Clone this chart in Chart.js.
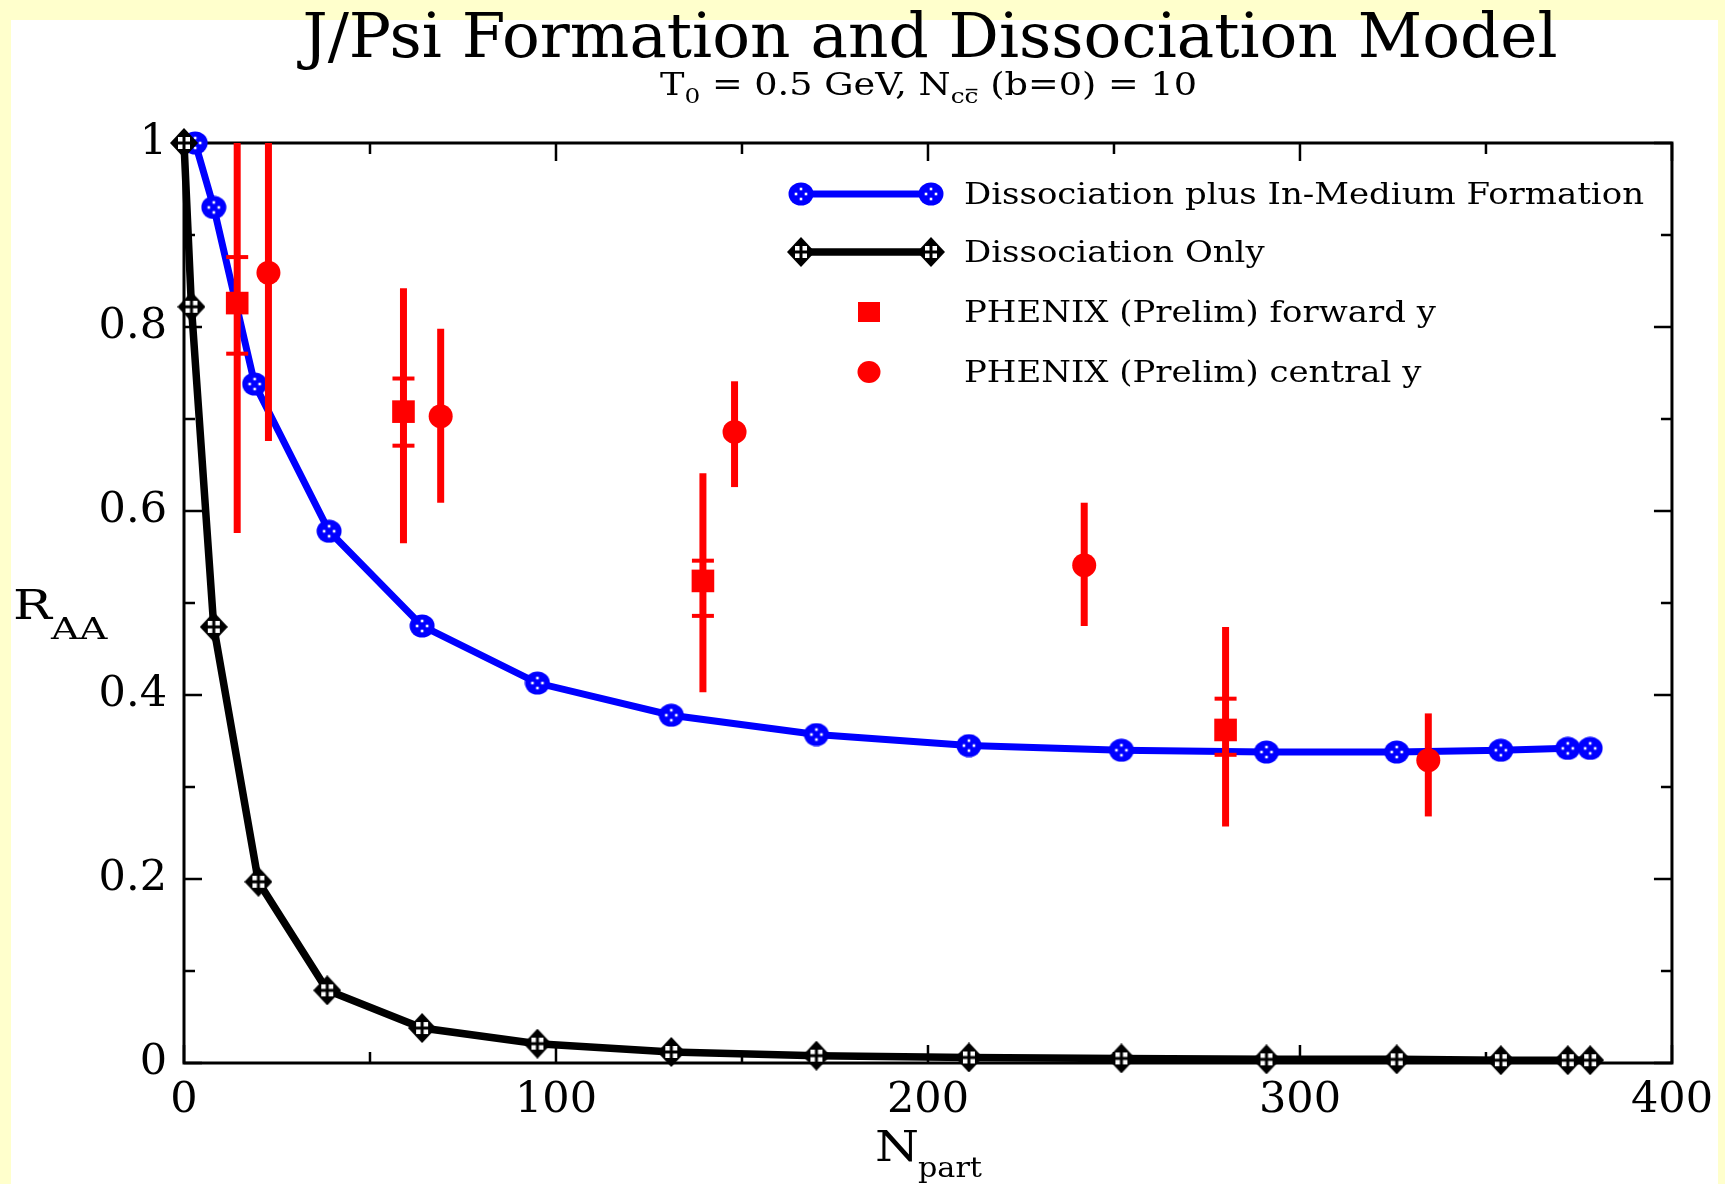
<!DOCTYPE html>
<html><head><meta charset="utf-8">
<script src="https://cdn.jsdelivr.net/npm/chart.js@4/dist/chart.umd.min.js"></script>
<style>
html,body{margin:0;padding:0;background:#ffffcc;overflow:hidden}
#wrap{position:relative;width:1725px;height:1184px}
canvas{display:block}
</style>
</head><body>
<div id="wrap"><canvas id="c" width="1725" height="1184" style="width:1725px;height:1184px"></canvas></div>
<script>
// ---- data (N_part vs R_AA) ----
const blueX = [3, 8, 19, 39, 64, 95, 131, 170, 211, 252, 291, 326, 354, 372, 378];
const blueY = [1.0, 0.93, 0.738, 0.578, 0.475, 0.413, 0.378, 0.357, 0.345, 0.340, 0.338, 0.338, 0.340, 0.342, 0.342];
const blackX = [0, 2, 8, 20, 38.5, 64, 95, 131, 170, 211, 252, 291, 326, 354, 372, 378];
const blackY = [1.0, 0.822, 0.474, 0.197, 0.079, 0.038, 0.021, 0.012, 0.008, 0.006, 0.005, 0.004, 0.004, 0.003, 0.003, 0.003];
const fwdX = [14.3, 59, 139.5, 280];
const fwdY = [0.826, 0.708, 0.524, 0.362];
const fwdLo = [0.576, 0.565, 0.403, 0.257];
const fwdHi = [1.05, 0.842, 0.641, 0.474];
const fwdCapLo = [0.771, 0.671, 0.486, 0.335];
const fwdCapHi = [0.876, 0.744, 0.546, 0.396];
const cenX = [22.7, 69, 148, 242, 334.5];
const cenY = [0.859, 0.703, 0.686, 0.541, 0.329];
const cenLo = [0.676, 0.609, 0.626, 0.475, 0.268];
const cenHi = [1.05, 0.798, 0.741, 0.609, 0.380];
const seriesLabels = ['Dissociation plus In-Medium Formation', 'Dissociation Only', 'PHENIX (Prelim) forward y', 'PHENIX (Prelim) central y'];
const xTickStep = 100, xMinorStep = 50, yTickStep = 0.2, yMinorStep = 0.1;

const SERIF = '"DejaVu Serif", serif';

// ---- marker images ----
function makeBlue() {
  const c = document.createElement('canvas'); c.width = 26; c.height = 24;
  const g = c.getContext('2d');
  g.fillStyle = '#0000ff'; g.beginPath(); g.ellipse(13, 12, 12.5, 11.5, 0, 0, Math.PI * 2); g.fill();
  g.fillStyle = '#ffffff';
  [[13, 7], [8, 12], [18, 12], [13, 17]].forEach(([a, b]) => { g.fillRect(a - 1.3, b - 1.3, 2.6, 2.6); });
  return c;
}
function makeDiamond() {
  const c = document.createElement('canvas'); c.width = 28; c.height = 30;
  const g = c.getContext('2d');
  g.fillStyle = '#000'; g.beginPath(); g.moveTo(14, 0); g.lineTo(28, 15); g.lineTo(14, 30); g.lineTo(0, 15); g.closePath(); g.fill();
  g.fillStyle = '#fff';
  g.fillRect(8, 9, 4.5, 4.5); g.fillRect(15.5, 9, 4.5, 4.5); g.fillRect(8, 16.5, 4.5, 4.5); g.fillRect(15.5, 16.5, 4.5, 4.5);
  return c;
}
const blueMarker = makeBlue();
const diamondMarker = makeDiamond();

function pts(xs, ys) { return xs.map((x, i) => ({ x: x, y: ys[i] })); }

// ---- plugins ----
const bgPlugin = {
  id: 'bg',
  beforeDraw(chart) {
    const g = chart.ctx;
    g.save();
    g.fillStyle = '#ffffcc'; g.fillRect(0, 0, chart.width, chart.height);
    g.fillStyle = '#ffffff'; g.fillRect(11, 20, 1707, chart.height - 20);
    g.restore();
  }
};

const framePlugin = {
  id: 'frame',
  beforeDatasetsDraw(chart) {
    const g = chart.ctx, a = chart.chartArea, xs = chart.scales.x, ys = chart.scales.y;
    g.save();
    g.strokeStyle = '#000'; g.lineWidth = 3;
    g.strokeRect(a.left, a.top, a.right - a.left, a.bottom - a.top);
    g.lineWidth = 2.5;
    const MAJ = 18, MIN = 11;
    for (let v = xs.min; v <= xs.max + 1e-9; v += xMinorStep) {
      const p = xs.getPixelForValue(v);
      const L = (Math.abs(v / xTickStep - Math.round(v / xTickStep)) < 1e-6) ? MAJ : MIN;
      g.beginPath(); g.moveTo(p, a.bottom); g.lineTo(p, a.bottom - L); g.moveTo(p, a.top); g.lineTo(p, a.top + L); g.stroke();
    }
    for (let k = 0; k <= Math.round((ys.max - ys.min) / yMinorStep); k++) {
      const v = ys.min + k * yMinorStep;
      const p = ys.getPixelForValue(v);
      const L = (k % Math.round(yTickStep / yMinorStep) === 0) ? MAJ : MIN;
      g.beginPath(); g.moveTo(a.left, p); g.lineTo(a.left + L, p); g.moveTo(a.right, p); g.lineTo(a.right - L, p); g.stroke();
    }
    g.restore();
  }
};

const errPlugin = {
  id: 'errbars',
  afterDatasetsDraw(chart) {
    const g = chart.ctx, a = chart.chartArea, xs = chart.scales.x, ys = chart.scales.y;
    g.save();
    g.beginPath(); g.rect(a.left, a.top, a.right - a.left, a.bottom - a.top); g.clip();
    g.strokeStyle = '#ff0000'; g.lineCap = 'butt';
    function vbar(xv, lo, hi) {
      const p = xs.getPixelForValue(xv);
      g.lineWidth = 7; g.beginPath(); g.moveTo(p, ys.getPixelForValue(lo)); g.lineTo(p, ys.getPixelForValue(hi)); g.stroke();
    }
    function cap(xv, yv) {
      const p = xs.getPixelForValue(xv), q = ys.getPixelForValue(yv);
      g.lineWidth = 4; g.beginPath(); g.moveTo(p - 11, q); g.lineTo(p + 11, q); g.stroke();
    }
    fwdX.forEach((v, i) => { vbar(v, fwdLo[i], fwdHi[i]); cap(v, fwdCapLo[i]); cap(v, fwdCapHi[i]); });
    cenX.forEach((v, i) => { vbar(v, cenLo[i], cenHi[i]); });
    g.restore();
  }
};

function sText(g, text, x, y, size, sx, align) {
  g.save();
  g.font = size + 'px ' + SERIF;
  g.textAlign = align || 'left';
  g.textBaseline = 'alphabetic';
  g.translate(x, y); g.scale(sx, 1);
  g.fillText(text, 0, 0);
  g.restore();
}

const textPlugin = {
  id: 'texts',
  afterDraw(chart) {
    const g = chart.ctx;
    g.save();
    g.fillStyle = '#000';
    // Title
    g.font = '62px ' + SERIF;
    const tTitle = 'J/Psi Formation and Dissociation Model';
    const tw = g.measureText(tTitle).width;
    sText(g, tTitle, 930, 57, 62, 1255 / tw, 'center');

    // Subtitle with subscripts
    const F = 31, S = 21;
    const parts = [
      { t: 'T', s: F, dy: 0 }, { t: '0', s: S, dy: 8 },
      { t: ' = 0.5 GeV, N', s: F, dy: 0 }, { t: 'cc', s: S, dy: 8, bar: true },
      { t: ' (b=0) = 10', s: F, dy: 0 }
    ];
    let tot = 0;
    parts.forEach(p => { g.font = p.s + 'px ' + SERIF; p.w = g.measureText(p.t).width; tot += p.w; });
    const sx = 537 / tot;
    let cx = 660;
    const base = 95;
    parts.forEach(p => {
      g.font = p.s + 'px ' + SERIF;
      g.save(); g.translate(cx, base + p.dy); g.scale(sx, 1); g.textAlign = 'left'; g.fillText(p.t, 0, 0);
      if (p.bar) {
        const cw = g.measureText('c').width;
        g.lineWidth = 1.5; g.strokeStyle = '#000';
        g.beginPath(); g.moveTo(cw + 1, -p.s * 0.64); g.lineTo(2 * cw - 1, -p.s * 0.64); g.stroke();
      }
      g.restore();
      cx += p.w * sx;
    });

    // Axis titles
    sText(g, 'R', 13, 619, 41, 1.26, 'left');
    sText(g, 'AA', 51, 639, 30, 1.3, 'left');
    sText(g, 'N', 875, 1161, 42, 1.2, 'left');
    sText(g, 'part', 918, 1177, 28, 1.08, 'left');

    // Legend
    const rows = [194, 252, 312, 372];
    const LX0 = 801, LX1 = 931, TX = 964, LS = 1.17, LF = 29;
    g.lineCap = 'butt';
    g.strokeStyle = '#0000ff'; g.lineWidth = 7;
    g.beginPath(); g.moveTo(LX0, rows[0]); g.lineTo(LX1, rows[0]); g.stroke();
    g.drawImage(blueMarker, LX0 - blueMarker.width / 2, rows[0] - blueMarker.height / 2);
    g.drawImage(blueMarker, LX1 - blueMarker.width / 2, rows[0] - blueMarker.height / 2);
    g.strokeStyle = '#000'; g.lineWidth = 7.5;
    g.beginPath(); g.moveTo(LX0, rows[1]); g.lineTo(LX1, rows[1]); g.stroke();
    g.drawImage(diamondMarker, LX0 - diamondMarker.width / 2, rows[1] - diamondMarker.height / 2);
    g.drawImage(diamondMarker, LX1 - diamondMarker.width / 2, rows[1] - diamondMarker.height / 2);
    g.fillStyle = '#ff0000';
    g.fillRect(869 - 11, rows[2] - 10, 22, 20);
    g.beginPath(); g.ellipse(869, rows[3], 11.5, 11, 0, 0, Math.PI * 2); g.fill();
    g.fillStyle = '#000';
    seriesLabels.forEach((t, i) => sText(g, t, TX, rows[i] + 10, LF, LS, 'left'));
    g.restore();
  }
};

const ctx = document.getElementById('c').getContext('2d');
new Chart(ctx, {
  type: 'line',
  data: {
    datasets: [
      { label: seriesLabels[0], data: pts(blueX, blueY), borderColor: '#0000ff', backgroundColor: '#0000ff', borderWidth: 7,
        pointStyle: blueMarker, pointRadius: 12, tension: 0, order: 3, clip: false },
      { label: seriesLabels[1], data: pts(blackX, blackY), borderColor: '#000000', backgroundColor: '#000000', borderWidth: 7.5,
        pointStyle: diamondMarker, pointRadius: 14, tension: 0, order: 2, clip: false },
      { label: seriesLabels[2], data: pts(fwdX, fwdY), showLine: false, pointStyle: 'rect', pointRadius: 16,
        backgroundColor: '#ff0000', borderColor: '#ff0000', pointBorderWidth: 0, order: 1 },
      { label: seriesLabels[3], data: pts(cenX, cenY), showLine: false, pointStyle: 'circle', pointRadius: 12,
        backgroundColor: '#ff0000', borderColor: '#ff0000', pointBorderWidth: 0, order: 0 }
    ]
  },
  options: {
    responsive: false, animation: false, devicePixelRatio: 1, events: [],
    layout: { padding: { left: 0, right: 51, top: 143, bottom: 0 } },
    plugins: { legend: { display: false }, tooltip: { enabled: false }, title: { display: false } },
    scales: {
      x: {
        type: 'linear', min: 0, max: 400,
        ticks: { stepSize: xTickStep, color: '#000', font: { family: SERIF, size: 43 }, padding: 12, maxRotation: 0 },
        grid: { display: false, drawTicks: false }, border: { display: false },
        afterFit(s) { s.height = 121; }
      },
      y: {
        type: 'linear', min: 0, max: 1,
        ticks: { stepSize: yTickStep, color: '#000', font: { family: SERIF, size: 43 }, padding: 17,
          callback: (v) => String(Number(Number(v).toFixed(1))) },
        grid: { display: false, drawTicks: false }, border: { display: false },
        afterFit(s) { s.width = 184; }
      }
    }
  },
  plugins: [bgPlugin, framePlugin, errPlugin, textPlugin]
});
</script>
</body></html>
